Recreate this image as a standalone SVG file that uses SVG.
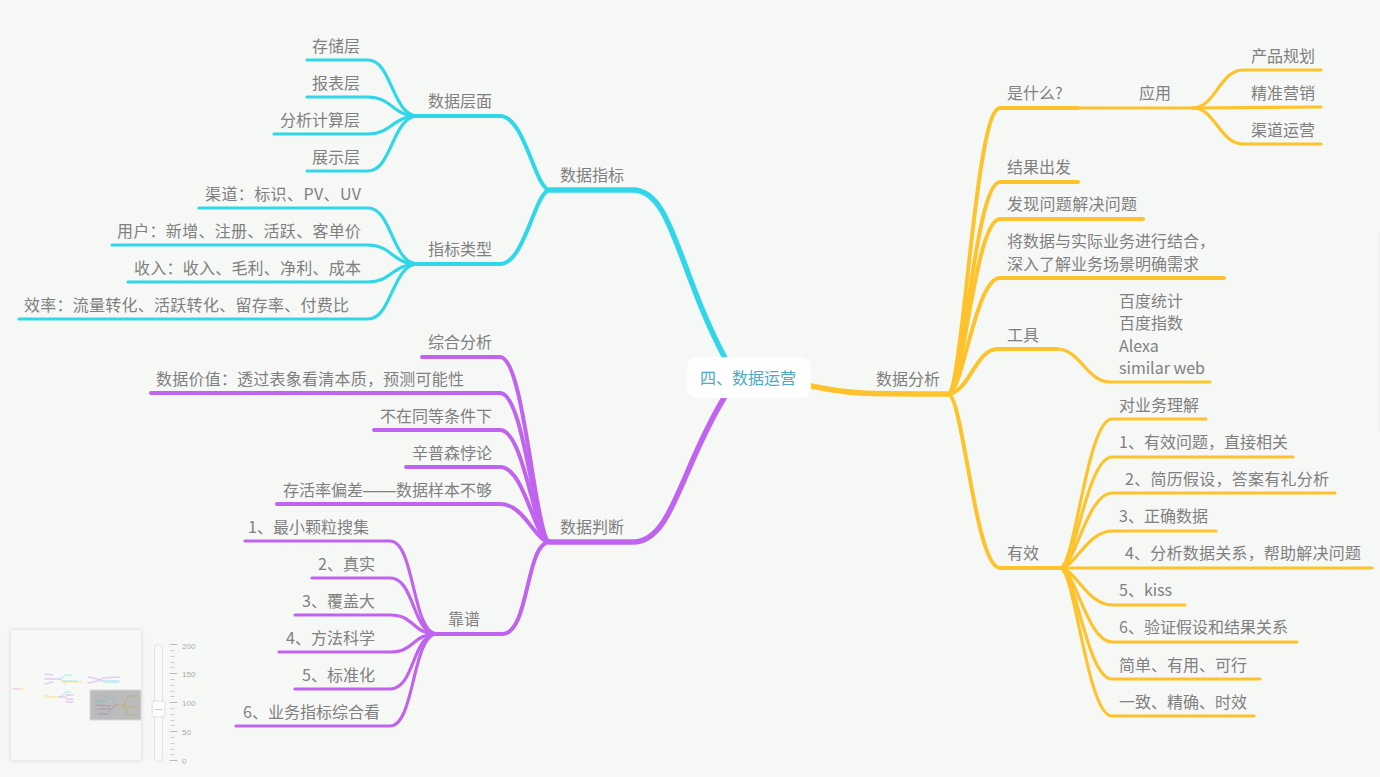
<svg xmlns="http://www.w3.org/2000/svg" width="1380" height="777" viewBox="0 0 1380 777">
<style>
text{font-family:"Noto Sans CJK SC","Noto Sans",sans-serif;font-size:16px;fill:#808080}
.e{text-anchor:end}
.root{fill:#4ea9c1}
.dash{font-family:"Liberation Sans",sans-serif;font-size:16.500px}
path{fill:none;stroke-linecap:round;stroke-linejoin:round}
.b{stroke:#31d7e8}.p{stroke:#c063ef}.y{stroke:#fec32c}
.t{stroke-width:5.500}.m{stroke-width:4}.l{stroke-width:3.200}
.tick{stroke:#bbb;stroke-width:1}
.mini{stroke-width:1.500;opacity:.3}
.sl{font-size:8px;fill:#aaa;font-family:"Liberation Sans",sans-serif}
</style>
<defs>
<filter id="sh" x="-10%" y="-10%" width="120%" height="120%"><feDropShadow dx="0" dy="0" stdDeviation="2" flood-color="#000" flood-opacity=".14"/></filter>
</defs>
<rect width="1380" height="777" fill="#f6f8f5"/>
<rect x="1378" y="232" width="2" height="200" fill="#eff1ee"/>
<g id="connectors">
<path class="b t" d="M725 358C678 270 672 190 633 190L550 190"/>
<path class="p t" d="M724 398C680 470 672 542 633 542L550 542"/>
<path class="y t" d="M811 386C850 394 860 394 948 394"/>
<path class="b m" d="M550 190C535 190 525 116 500 116L418 116"/>
<path class="b m" d="M550 190C535 190 525 264 500 264L418 264"/>
<path class="b l" d="M418 116C392 116 392 60 368 60L307 60"/>
<path class="b l" d="M418 116C392 116 392 97 368 97L307 97"/>
<path class="b l" d="M418 116C392 116 392 134 368 134L274 134"/>
<path class="b l" d="M418 116C392 116 392 171 368 171L307 171"/>
<path class="b l" d="M418 264C392 264 392 208 368 208L199 208"/>
<path class="b l" d="M418 264C392 264 392 245 368 245L112 245"/>
<path class="b l" d="M418 264C392 264 392 282 368 282L128 282"/>
<path class="b l" d="M418 264C392 264 392 319 368 319L19 319"/>
<path class="p m" d="M550 542C535 542 525 357 500 357L422 357"/>
<path class="p m" d="M550 542C535 542 525 393 500 393L151 393"/>
<path class="p m" d="M550 542C535 542 525 430 500 430L374 430"/>
<path class="p m" d="M550 542C535 542 525 467 500 467L406 467"/>
<path class="p m" d="M550 542C535 542 525 504 500 504L277 504"/>
<path class="p m" d="M550 542C525 542 530 634 502 634L437 634"/>
<path class="p l" d="M437 634C412 634 415 541 390 541L245 541"/>
<path class="p l" d="M437 634C412 634 415 578 390 578L312 578"/>
<path class="p l" d="M437 634C412 634 415 615 390 615L295 615"/>
<path class="p l" d="M437 634C412 634 415 652 390 652L279 652"/>
<path class="p l" d="M437 634C412 634 415 689 390 689L295 689"/>
<path class="p l" d="M437 634C412 634 415 726 390 726L236 726"/>
<path class="y m" d="M948 394C963 394 975 108 1000 108L1078 108"/>
<path class="y l" d="M1078 108L1193 108"/>
<path class="y l" d="M1193 108C1215 108 1220 70 1243 70L1321 70"/>
<path class="y l" d="M1193 108L1321 107"/>
<path class="y l" d="M1193 108C1215 108 1220 144 1243 144L1321 144"/>
<path class="y m" d="M948 394C963 394 975 182 1000 182L1078 182"/>
<path class="y m" d="M948 394C963 394 975 219 1000 219L1143 219"/>
<path class="y m" d="M948 394C963 394 975 278 1000 278L1224 278"/>
<path class="y m" d="M948 394C970 392 975 349 998 349L1057 349"/>
<path class="y l" d="M1057 349C1080 349 1087 382 1110 382L1210 382"/>
<path class="y m" d="M948 394C963 394 975 568 1000 568L1060 568"/>
<path class="y l" d="M1060 568C1075 568 1087 419 1112 419L1206 419"/>
<path class="y l" d="M1060 568C1075 568 1087 457 1112 457L1293 457"/>
<path class="y l" d="M1060 568C1075 568 1087 493 1112 493L1335 493"/>
<path class="y l" d="M1060 568C1075 568 1087 531 1112 531L1216 531"/>
<path class="y l" d="M1060 568L1372 568"/>
<path class="y l" d="M1060 568C1075 568 1087 605 1112 605L1185 605"/>
<path class="y l" d="M1060 568C1075 568 1087 642 1112 642L1297 642"/>
<path class="y l" d="M1060 568C1075 568 1087 679 1112 679L1260 679"/>
<path class="y l" d="M1060 568C1075 568 1087 716 1112 716L1254 716"/>
</g>
<g id="n-root"><rect x="687" y="357" width="124" height="41" rx="10" fill="#fdfefd"/><text class="root" x="700" y="384">四、数据运营</text></g>
<g id="n-zhibiao"><text x="560" y="181">数据指标</text></g>
<g id="n-cengmian"><text x="428" y="107">数据层面</text></g>
<g id="n-cunchu"><text class="e" x="360" y="52">存储层</text></g>
<g id="n-baobiao"><text class="e" x="360" y="89">报表层</text></g>
<g id="n-fenxi"><text class="e" x="360" y="126">分析计算层</text></g>
<g id="n-zhanshi"><text class="e" x="360" y="163">展示层</text></g>
<g id="n-leixing"><text x="428" y="255">指标类型</text></g>
<g id="n-qudao"><text x="205" y="200" textLength="156">渠道：标识、PV、UV</text></g>
<g id="n-yonghu"><text x="117" y="237" textLength="244">用户：新增、注册、活跃、客单价</text></g>
<g id="n-shouru"><text x="134" y="274" textLength="227">收入：收入、毛利、净利、成本</text></g>
<g id="n-xiaolv"><text x="24" y="311" textLength="325">效率：流量转化、活跃转化、留存率、付费比</text></g>
<g id="n-panduan"><text x="560" y="533">数据判断</text></g>
<g id="n-zonghe"><text class="e" x="492" y="348">综合分析</text></g>
<g id="n-jiazhi"><text x="156" y="385" textLength="308">数据价值：透过表象看清本质，预测可能性</text></g>
<g id="n-tongdeng"><text class="e" x="492" y="422">不在同等条件下</text></g>
<g id="n-xinpusen"><text class="e" x="492" y="459">辛普森悖论</text></g>
<g id="n-cunhuo"><text class="e" x="492" y="496">存活率偏差<tspan class="dash">——</tspan>数据样本不够</text></g>
<g id="n-kaopu"><text x="448" y="625">靠谱</text></g>
<g id="n-k1"><text class="e" x="369" y="533">1、最小颗粒搜集</text></g>
<g id="n-k2"><text class="e" x="375" y="570">2、真实</text></g>
<g id="n-k3"><text class="e" x="375" y="607">3、覆盖大</text></g>
<g id="n-k4"><text class="e" x="375" y="644">4、方法科学</text></g>
<g id="n-k5"><text class="e" x="375" y="681">5、标准化</text></g>
<g id="n-k6"><text class="e" x="380" y="718">6、业务指标综合看</text></g>
<g id="n-fenxi2"><text x="876" y="385">数据分析</text></g>
<g id="n-shi"><text x="1007" y="99">是什么?</text></g>
<g id="n-yingyong"><text x="1139" y="99">应用</text></g>
<g id="n-chanpin"><text x="1251" y="62">产品规划</text></g>
<g id="n-jingzhun"><text x="1251" y="99">精准营销</text></g>
<g id="n-qudaoyy"><text x="1251" y="136">渠道运营</text></g>
<g id="n-jieguo"><text x="1007" y="173">结果出发</text></g>
<g id="n-faxian"><text x="1007" y="210" textLength="130">发现问题解决问题</text></g>
<g id="n-jiang"><text x="1007" y="247">将数据与实际业务进行结合，</text><text x="1007" y="270">深入了解业务场景明确需求</text></g>
<g id="n-gongju"><text x="1007" y="341">工具</text></g>
<g id="n-tools"><text x="1119" y="307">百度统计</text><text x="1119" y="329">百度指数</text><text x="1119" y="352">Alexa</text><text x="1119" y="374">similar web</text></g>
<g id="n-youxiao"><text x="1007" y="559">有效</text></g>
<g id="n-y0"><text x="1119" y="411">对业务理解</text></g>
<g id="n-y1"><text x="1119" y="448">1、有效问题，直接相关</text></g>
<g id="n-y2"><text x="1125" y="485" textLength="204">2、简历假设，答案有礼分析</text></g>
<g id="n-y3"><text x="1119" y="522">3、正确数据</text></g>
<g id="n-y4"><text x="1125" y="559" textLength="236">4、分析数据关系，帮助解决问题</text></g>
<g id="n-y5"><text x="1119" y="596">5、kiss</text></g>
<g id="n-y6"><text x="1119" y="633">6、验证假设和结果关系</text></g>
<g id="n-y7"><text x="1119" y="671">简单、有用、可行</text></g>
<g id="n-y8"><text x="1119" y="708">一致、精确、时效</text></g>
<g id="minimap">
<rect x="11" y="630" width="130" height="130" fill="#f7f9f6" filter="url(#sh)"/>
<path class="mini p" d="M13 689L19 689M45 674L53 675M45 679L53 679M45 684L53 682M53 679L60 679M66 695L73 695M66 699L73 699M66 702L73 702M60 697L66 697M88 677L102 680M88 683L102 680M102 678L119 677"/>
<path class="mini y" d="M19 689L24 689M45 697L60 697M45 695L52 698M62 682L82 682M60 679L65 684"/>
<path class="mini b" d="M60 679L66 675L72 675M63 681L77 681M60 697L66 692L70 692M102 681L119 681M104 682L119 682"/>
<rect x="90" y="690" width="51" height="30" fill="#bbb" stroke="#d8d8d8"/>
<path d="M94 700L105 700M95 702L106 702M100 695L112 698L116 705" stroke="#8fbcc0" stroke-width="1" opacity=".8"/>
<path d="M96 705L110 706M98 709L110 709M98 714L108 714M108 712L116 705" stroke="#a58ab4" stroke-width="1" opacity=".8"/>
<path d="M116 705L124 705M124 705L128 696L136 696M124 705L128 707L138 707M124 705L128 715L136 715" stroke="#c2ad6e" stroke-width="1" opacity=".8"/>
<rect x="154.500" y="644.500" width="8" height="117" rx="3.500" fill="#f8faf7" stroke="#e2e2e2"/>
<rect x="153" y="702" width="11" height="14" rx="2" fill="#fdfdfd" filter="url(#sh)"/>
<path d="M155 709.500L162 709.500" stroke="#ccc" stroke-width="1"/>
<path class="tick" d="M170 644.500h7M170 673.500h7M170 702.500h7M170 731.500h7M170 760.500h7"/>
<path d="M171 650.500h3M171 656.500h3M171 662.500h3M171 667.500h3M171 679.500h3M171 685.500h3M171 691.500h3M171 696.500h3M171 708.500h3M171 714.500h3M171 720.500h3M171 725.500h3M171 737.500h3M171 743.500h3M171 749.500h3M171 754.500h3" stroke="#ccc" stroke-width="1"/>
<text class="sl" x="182" y="648.500">200</text>
<text class="sl" x="182" y="677">150</text>
<text class="sl" x="182" y="706">100</text>
<text class="sl" x="182" y="735">50</text>
<text class="sl" x="182" y="764">0</text>
</g>
</svg>
